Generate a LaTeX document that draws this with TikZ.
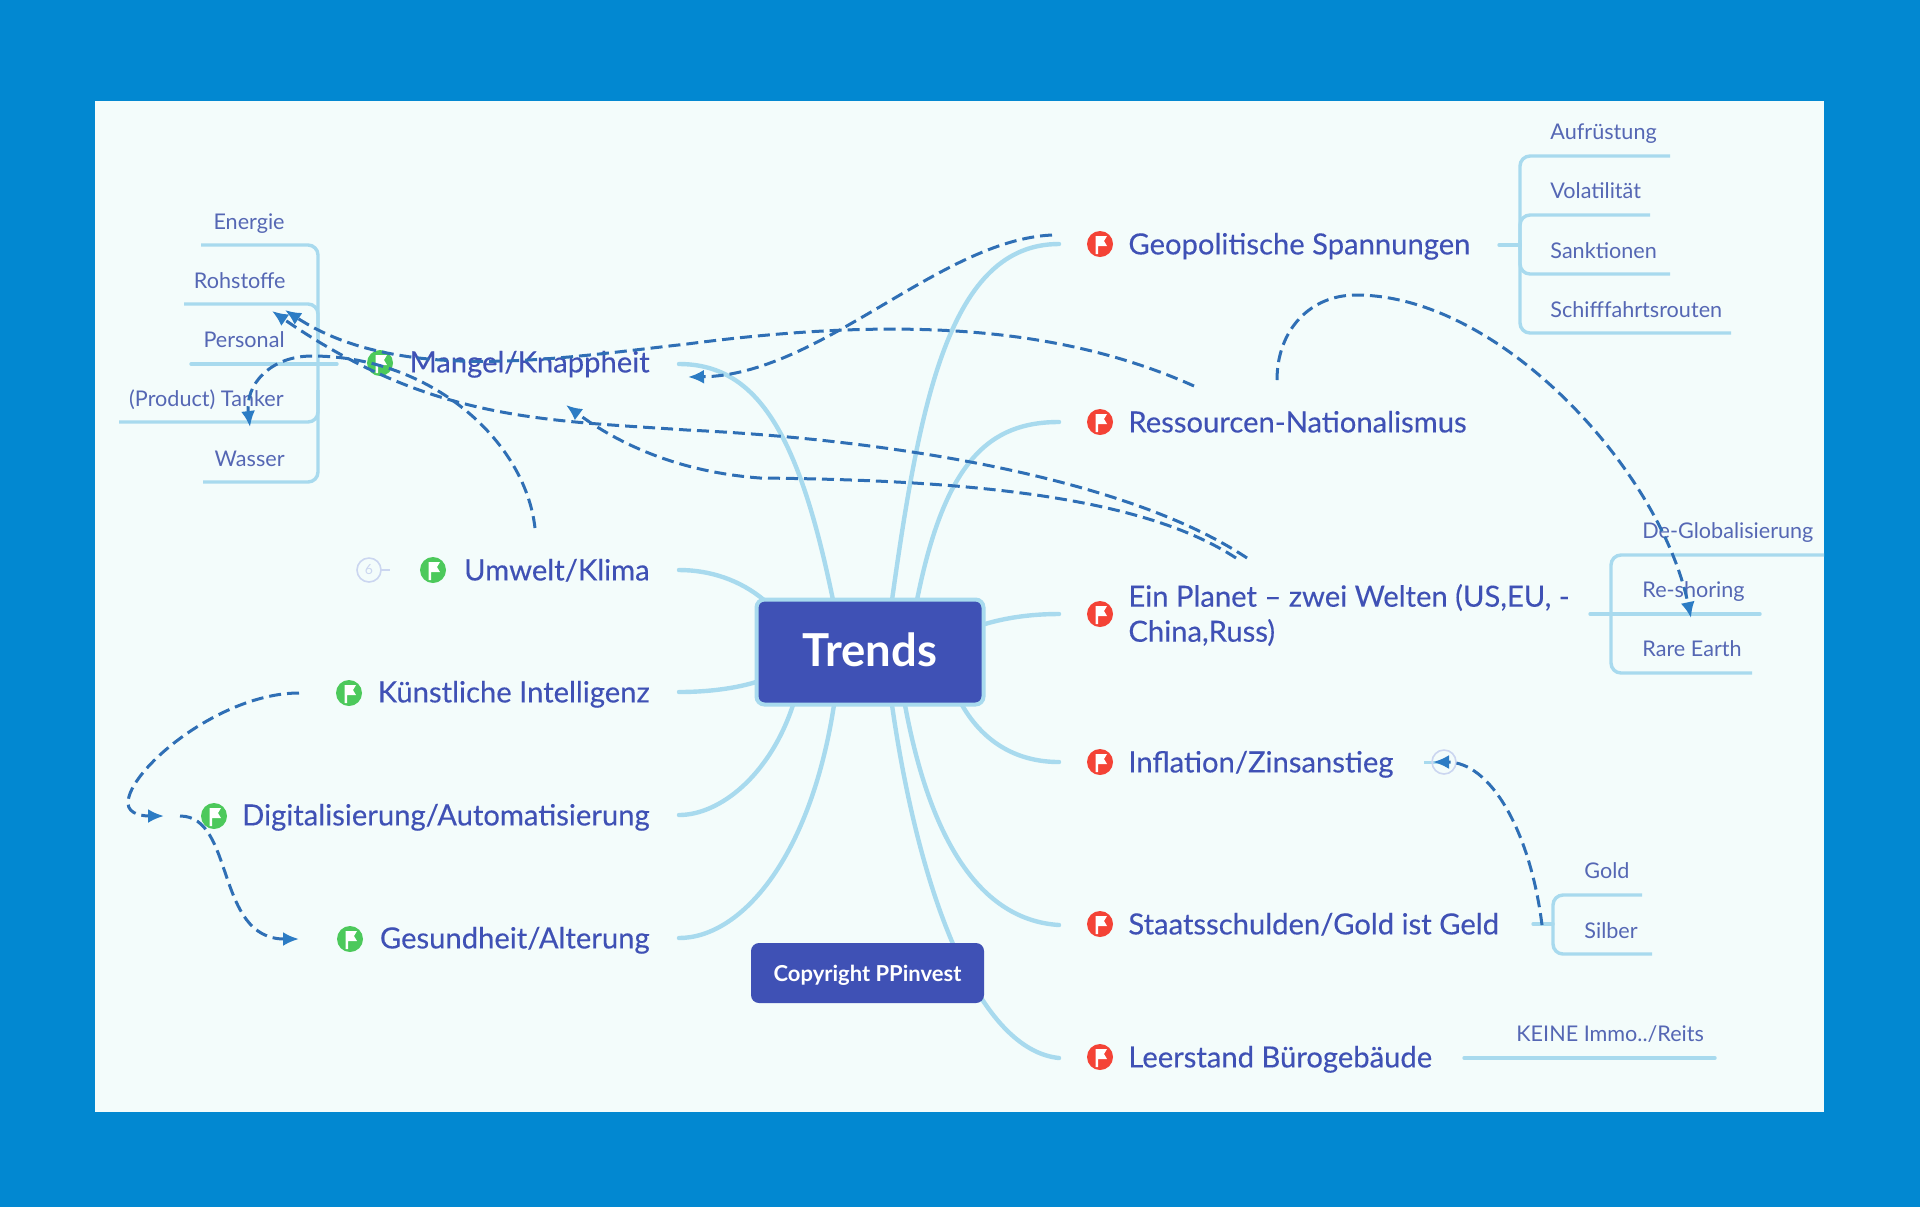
\documentclass[tikz,border=0pt]{standalone}
\usepackage{fontspec}
\setmainfont{Lato}
\usetikzlibrary{arrows.meta}
\definecolor{bgblue}{HTML}{0288D1}
\definecolor{panel}{HTML}{F3FCFB}
\definecolor{ink}{HTML}{3F51B5}
\definecolor{inklight}{HTML}{5567B4}
\definecolor{branch}{HTML}{A8DAEE}
\definecolor{dashc}{HTML}{2F6FB5}
\definecolor{arrowc}{HTML}{2C7CC4}
\definecolor{flagred}{HTML}{F44336}
\definecolor{flaggreen}{HTML}{4CC95B}
\definecolor{foldc}{HTML}{CBD6F0}
\tikzset{
  x=0.5pt,y=-0.5pt,
  flagdot/.style={circle,fill=#1,draw=none,minimum size=13pt,inner sep=0pt,
    path picture={\fill[white,shift={(path picture bounding box.center)}]
      (-4.5,-8) -- (7,-8) -- (4,-3) -- (7,2) -- (-1.8,2) -- (-1.8,10) -- (-4.5,10) -- cycle;}},
  main/.style={text=ink,font=\fontsize{14.6}{17.5}\selectfont\addfontfeatures{FakeBold=0.25},inner sep=0pt},
  mainl/.style={main,anchor=base west,yshift=-5.2pt,align=left},
  mainr/.style={main,anchor=base east,yshift=-5.2pt,align=right},
  sub/.style={text=inklight,font=\fontsize{10.8}{13}\selectfont,inner sep=0pt,yshift=-3.8pt},
  subl/.style={sub,anchor=base west},
  subr/.style={sub,anchor=base east},
  branchline/.style={draw=branch,line width=2.2pt,line cap=round},
  sublink/.style={draw=branch,line width=1.7pt,rounded corners=5pt},
  relation/.style={draw=dashc,line width=1.5pt,dash pattern=on 6pt off 3pt,-{Latex[length=8pt,width=7pt,fill=arrowc,color=arrowc]}},
  rootbox/.style={fill=ink,draw=branch,line width=2pt,rounded corners=4pt,text=white,font=\fontsize{22.7}{26}\selectfont\bfseries,minimum width=113.5pt,minimum height=52.5pt,inner sep=0pt},
  copybox/.style={fill=ink,rounded corners=4pt,text=white,font=\fontsize{11}{13}\selectfont\bfseries,minimum width=116.5pt,minimum height=30pt,inner sep=0pt},
  foldmark/.style={circle,draw=foldc,line width=0.8pt,minimum size=12pt,inner sep=0pt,text=foldc,font=\fontsize{7}{8}\selectfont},
}
\begin{document}
\begin{tikzpicture}
\useasboundingbox (0,0) rectangle (1920,1207);
\fill[bgblue] (0,0) rectangle (1920,1207);
\fill[panel] (95,101) rectangle (1824,1112);

% anchors of the branches
\coordinate (geoE) at (1059,244);
\coordinate (resE) at (1059,422);
\coordinate (plaE) at (1059,614);
\coordinate (infE) at (1059,762);
\coordinate (staE) at (1059,925);
\coordinate (leeE) at (1059,1058);
\coordinate (manE) at (679,364);
\coordinate (umwE) at (679,570);
\coordinate (kiE) at (679,692);
\coordinate (digE) at (679,815);
\coordinate (gesE) at (679,938);

% branches
\draw[branchline] (geoE) .. controls (950,244) and (920,400) .. (892,600);
\draw[branchline] (resE) .. controls (990,422) and (945,460) .. (917,600);
\draw[branchline] (plaE) .. controls (1030,614) and (1005,618) .. (985,624);
\draw[branchline] (infE) .. controls (1020,762) and (985,745) .. (962,705);
\draw[branchline] (staE) .. controls (980,920) and (930,840) .. (905,705);
\draw[branchline] (leeE) .. controls (980,1050) and (920,900) .. (892,705);
\draw[branchline] (manE) .. controls (760,364) and (800,440) .. (833,600);
\draw[branchline] (umwE) .. controls (710,570) and (740,580) .. (764,600);
\draw[branchline] (kiE) .. controls (700,692) and (730,690) .. (756,682);
\draw[branchline] (digE) .. controls (720,815) and (770,775) .. (793,705);
\draw[branchline] (gesE) .. controls (740,938) and (810,860) .. (834,705);

% sub-topic links, left group
\coordinate (manStub) at (337,364);
\draw[sublink] (201,245) -- (318,245) -- (318,482) -- (203,482);
\draw[sublink] (184,304) -- (318,304) -- (318,340);
\draw[sublink] (119,422) -- (318,422) -- (318,390);
\draw[sublink,line cap=round] (191,364) -- (manStub);
% right top group
\draw[sublink] (1670,156) -- (1520,156) -- (1520,333) -- (1731,333);
\draw[sublink] (1650,215) -- (1520,215) -- (1520,250);
\draw[sublink] (1670,274) -- (1520,274) -- (1520,240);
\draw[sublink,line cap=round] (1499,245) -- (1520,245);
% planet group
\draw[sublink] (1824,555) -- (1611,555) -- (1611,673) -- (1752,673);
\draw[sublink,line cap=round] (1590,614) -- (1760,614);
% gold group
\draw[sublink] (1642,895) -- (1553,895) -- (1553,954) -- (1652,954);
\draw[sublink,line cap=round] (1533,924) -- (1553,924);
% keine
\draw[sublink,line cap=round] (1464,1058) -- (1715,1058);

% root
\node[rootbox] (root) at (870,652) {\raisebox{1pt}[\height][\depth]{Trends}};
\node[copybox] (copy) at (867.5,973) {\raisebox{-1.2pt}[\height][\depth]{Copyright PPinvest}};

% right main topics
\node[flagdot=flagred] (fgeo) at (1100,244) {};
\node[flagdot=flagred] (fres) at (1100,422) {};
\node[flagdot=flagred] (fpla) at (1100,614) {};
\node[flagdot=flagred] (finf) at (1100,762) {};
\node[flagdot=flagred] (fsta) at (1100,924) {};
\node[flagdot=flagred] (flee) at (1100,1057) {};
\node[mainl] (geo) at (1128,244) {Geopolitische Spannungen};
\node[mainl] (res) at (1128,422) {Ressourcen-Nationalismus};
\node[main,anchor=west,align=left] (pla) at (1128,615) {Ein Planet – zwei Welten (US,EU, -\\China,Russ)};
\node[mainl] (inf) at (1128,762) {Inflation/Zinsanstieg};
\node[mainl] (sta) at (1128,924) {Staatsschulden/Gold ist Geld};
\node[mainl] (lee) at (1128,1057) {Leerstand Bürogebäude};

% left main topics
\node[mainr] (man) at (650,362) {Mangel/Knappheit};
\node[mainr] (umw) at (650,570) {Umwelt/Klima};
\node[mainr] (ki) at (650,692) {Künstliche Intelligenz};
\node[mainr] (dig) at (650,815) {Digitalisierung/Automatisierung};
\node[mainr] (ges) at (650,938) {Gesundheit/Alterung};
\node[flagdot=flaggreen] (fman) at (380,363) {};
\node[flagdot=flaggreen] (fumw) at (433,570) {};
\node[flagdot=flaggreen] (fki) at (349,693) {};
\node[flagdot=flaggreen] (fdig) at (214,816) {};
\node[flagdot=flaggreen] (fges) at (350,939) {};

% fold marks
\draw[draw=foldc,line width=1.2pt] (380,570) -- (390,570);
\node[foldmark] (fold) at (369,570) {6};
\draw[draw=branch,line width=1.5pt] (1424,762) -- (1444,762);
\node[foldmark] (foldb) at (1444,762) {};

% sub labels
\node[subr] (s1) at (285,222) {Energie};
\node[subr] (s2) at (286,281) {Rohstoffe};
\node[subr] (s3) at (285,340) {Personal};
\node[subr] (s4) at (284,399) {(Product) Tanker};
\node[subr] (s5) at (285,459) {Wasser};
\node[subl] (g1) at (1550,132) {Aufrüstung};
\node[subl] (g2) at (1550,191) {Volatilität};
\node[subl] (g3) at (1550,251) {Sanktionen};
\node[subl] (g4) at (1550,310) {Schifffahrtsrouten};
\node[subl] (p1) at (1642,531) {De-Globalisierung};
\node[subl] (p2) at (1642,590) {Re-shoring};
\node[subl] (p3) at (1642,649) {Rare Earth};
\node[subl] (a1) at (1584,871) {Gold};
\node[subl] (a2) at (1584,931) {Silber};
\node[subl] (k1) at (1516,1034) {KEINE Immo../Reits};

% relation ends
\coordinate (rA0) at (1052,235);
\coordinate (rA1) at (688,377);
\coordinate (rB0) at (1194,386);
\coordinate (rBm) at (687,344);
\coordinate (rB1) at (285,310);
\coordinate (rC0) at (1247,558);
\coordinate (rCm) at (687,430);
\coordinate (rC1) at (272,311);
\coordinate (rD0) at (1236,558);
\coordinate (rDm) at (760,478);
\coordinate (rD1) at (566,405);
\coordinate (rE0) at (535,528);
\coordinate (rEm) at (312,356);
\coordinate (rE1) at (250,427);
\coordinate (rF0) at (1277,380);
\coordinate (rFm) at (1356,295);
\coordinate (rF1) at (1691,618);
\coordinate (rG0) at (1542,925);
\coordinate (rG1) at (1433,762);
\coordinate (rH0) at (299,693);
\coordinate (rHm) at (128,803);
\coordinate (rH1) at (164,816);
\coordinate (rI0) at (180,816);
\coordinate (rI1) at (299,939);

% relations
\draw[relation] (rA0) .. controls (940,240) and (820,375) .. (rA1);
\draw[relation] (rB0) .. controls (1060,326) and (900,316) .. (rBm) .. controls (560,358) and (400,385) .. (rB1);
\draw[relation] (rC0) .. controls (1130,480) and (900,440) .. (rCm) .. controls (540,420) and (430,420) .. (rC1);
\draw[relation] (rD0) .. controls (1140,495) and (960,480) .. (rDm) .. controls (680,472) and (620,445) .. (rD1);
\draw[relation] (rE0) .. controls (525,440) and (430,356) .. (rEm) .. controls (270,356) and (245,385) .. (rE1);
\draw[relation] (rF0) .. controls (1277,330) and (1310,295) .. (rFm) .. controls (1500,295) and (1660,470) .. (rF1);
\draw[relation] (rG0) .. controls (1530,830) and (1490,762) .. (rG1);
\draw[relation] (rH0) .. controls (220,693) and (128,770) .. (rHm) .. controls (128,815) and (145,816) .. (rH1);
\draw[relation] (rI0) .. controls (235,816) and (215,939) .. (rI1);
\end{tikzpicture}
\end{document}
